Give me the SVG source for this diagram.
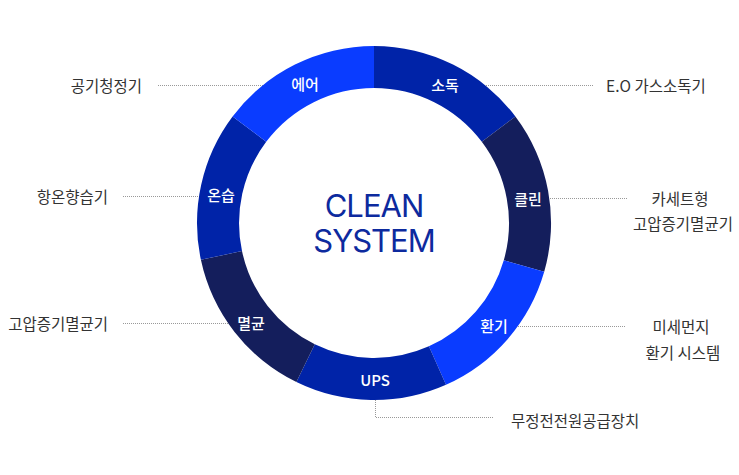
<svg xmlns="http://www.w3.org/2000/svg" width="739" height="475" viewBox="0 0 739 475">
<style>
.lbl{font-family:"Noto Sans CJK KR","Noto Sans",sans-serif;font-size:15px;font-weight:500;fill:#fff;text-anchor:middle;dominant-baseline:central}
.desc{font-family:"Noto Sans CJK KR","Noto Sans",sans-serif;font-size:15.5px;fill:#333;dominant-baseline:central}
.ld{stroke:#999;stroke-width:1;stroke-dasharray:1 1;fill:none}
.c1{fill:#0023a8}.c2{fill:#141e5c}.c3{fill:#0a3cff}
</style>
<rect width="739" height="475" fill="#fff"/>
<g id="connectors">
<path class="ld" d="M158 85.5H290"/>
<path class="ld" d="M470 85.5H594"/>
<path class="ld" d="M123 196.5H200"/>
<path class="ld" d="M550 198.5H628"/>
<path class="ld" d="M123 323.5H235"/>
<path class="ld" d="M512 326.5H626"/>
<path class="ld" d="M375.5 400V417.5H493"/>
</g>
<g id="soduk"><path class="c1" d="M374 46A177 177 0 0 1 515.4 116.5L481.8 141.8A135 135 0 0 0 374 88Z"/><text class="lbl" x="445" y="84">소독</text></g>
<g id="clean"><path class="c2" d="M515.4 116.5A177 177 0 0 1 544.2 271.8L503.8 260.2A135 135 0 0 0 481.8 141.8Z"/><text class="lbl" x="528" y="198">클린</text></g>
<g id="hwangi"><path class="c3" d="M544.2 271.8A177 177 0 0 1 446 384.7L428.9 346.3A135 135 0 0 0 503.8 260.2Z"/><text class="lbl" x="494" y="325">환기</text></g>
<g id="ups"><path class="c1" d="M446 384.7A177 177 0 0 1 296.4 382.1L314.8 344.3A135 135 0 0 0 428.9 346.3Z"/><text class="lbl" x="375" y="379">UPS</text></g>
<g id="myeolgyun"><path class="c2" d="M296.4 382.1A177 177 0 0 1 200.9 259.8L242 251.1A135 135 0 0 0 314.8 344.3Z"/><text class="lbl" x="251" y="322">멸균</text></g>
<g id="onseup"><path class="c1" d="M200.9 259.8A177 177 0 0 1 232.6 116.5L266.2 141.8A135 135 0 0 0 242 251.1Z"/><text class="lbl" x="221" y="194">온습</text></g>
<g id="air"><path class="c3" d="M232.6 116.5A177 177 0 0 1 374 46L374 88A135 135 0 0 0 266.2 141.8Z"/><text class="lbl" x="305" y="83">에어</text></g>
<g id="center"><text x="374" y="217" font-family="Inter,sans-serif" font-size="31" fill="#0d2a9e" text-anchor="middle" letter-spacing="-1">CLEAN</text><text x="374" y="252" font-family="Inter,sans-serif" font-size="31" fill="#0d2a9e" text-anchor="middle" letter-spacing="-1">SYSTEM</text></g>
<g id="descs">
<text class="desc" x="142" y="85" text-anchor="end">공기청정기</text>
<text class="desc" x="108" y="196" text-anchor="end">항온향습기</text>
<text class="desc" x="108" y="323" text-anchor="end">고압증기멸균기</text>
<text class="desc" x="606" y="85">E.O 가스소독기</text>
<text class="desc" x="680" y="198" text-anchor="middle">카세트형</text>
<text class="desc" x="683" y="223" text-anchor="middle">고압증기멸균기</text>
<text class="desc" x="681" y="326" text-anchor="middle">미세먼지</text>
<text class="desc" x="683" y="352" text-anchor="middle">환기 시스템</text>
<text class="desc" x="511" y="420">무정전전원공급장치</text>
</g>
</svg>
